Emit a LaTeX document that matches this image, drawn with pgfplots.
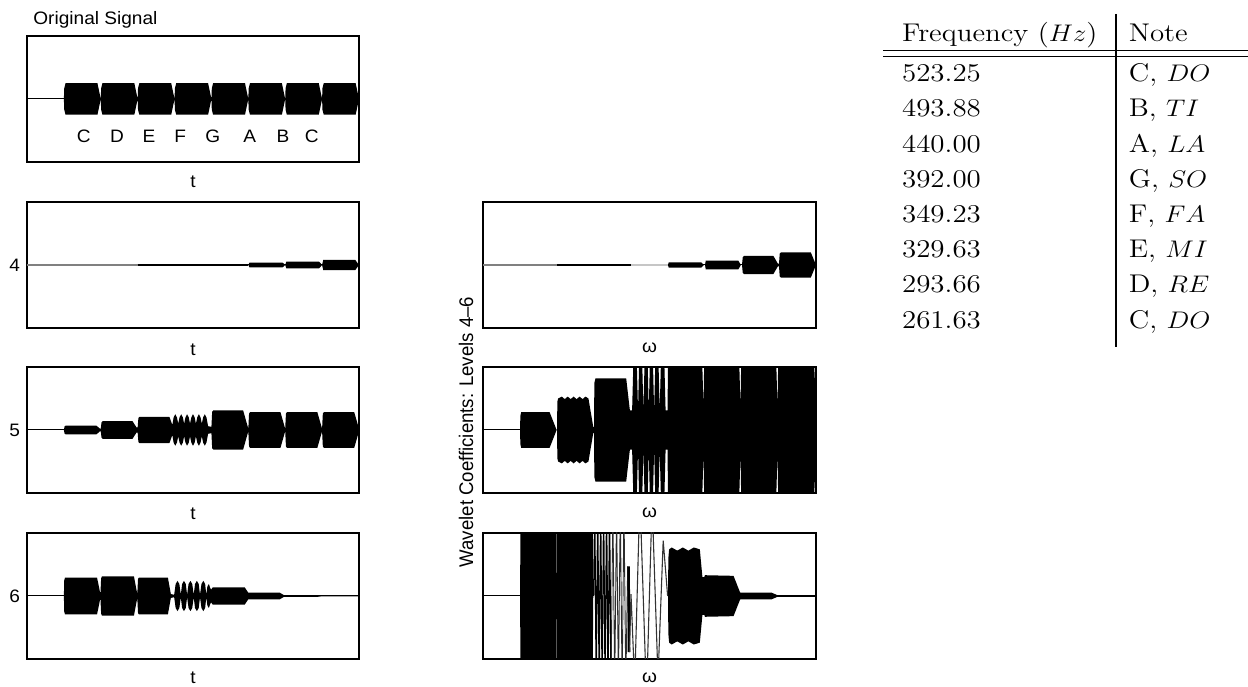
\documentclass[border=0pt]{standalone}
\usepackage{pgfplots}
\pgfplotsset{compat=1.18}
\usepackage{pgfplotstable}
\usepackage{fontspec}
\usepackage{graphicx}
\newfontfamily\helv{Liberation Sans}
\newcommand{\lab}{\helv\fontsize{9}{10.5}\selectfont}
\newcommand{\rlab}{\helv\fontsize{9.3}{11}\selectfont}
\newcommand{\sx}[1]{\scalebox{1.06}[1]{#1}}
\newcommand{\tf}{\fontsize{12.8}{15}\selectfont}
\newcommand{\tx}[1]{\scalebox{1.13}[1]{#1}}

% envelopes (upper u, lower l) of the signals
\pgfplotstableread{
x u l
0 0 0
1 0 0
1.01 0.17 -0.17
1.045 0.25 -0.25
1.91 0.25 -0.25
2 0 0
2.01 0.17 -0.17
2.045 0.25 -0.25
2.91 0.25 -0.25
3 0 0
3.01 0.17 -0.17
3.045 0.25 -0.25
3.91 0.25 -0.25
4 0 0
4.01 0.17 -0.17
4.045 0.25 -0.25
4.91 0.25 -0.25
5 0 0
5.01 0.17 -0.17
5.045 0.25 -0.25
5.91 0.25 -0.25
6 0 0
6.01 0.17 -0.17
6.045 0.25 -0.25
6.91 0.25 -0.25
7 0 0
7.01 0.17 -0.17
7.045 0.25 -0.25
7.91 0.25 -0.25
8 0 0
8.01 0.17 -0.17
8.045 0.25 -0.25
8.91 0.25 -0.25
9 0 0
}\Orig

\pgfplotstableread{
x u l
6 0 0
6.03 0.037 -0.037
6.93 0.037 -0.037
7 0 0
7.03 0.053 -0.053
7.92 0.053 -0.053
8 0 0
8.03 0.08 -0.08
8.9 0.08 -0.08
9 0 0
}\LFour

\pgfplotstableread{
x u l
1 0 0
1.02 0.06 -0.06
1.05 0.069 -0.069
1.88 0.069 -0.069
1.98 0.02 -0.02
2 0.02 -0.02
2.02 0.12 -0.12
2.05 0.14 -0.14
2.86 0.14 -0.14
2.97 0.04 -0.04
3 0.04 -0.04
3.02 0.19 -0.19
3.05 0.21 -0.21
3.86 0.21 -0.21
3.94 0.08 -0.08
3.975 0.20 -0.20
4.02 0.25 -0.25
4.065 0.20 -0.20
4.10 0.10 -0.10
4.135 0.20 -0.20
4.18 0.25 -0.25
4.225 0.20 -0.20
4.26 0.10 -0.10
4.295 0.20 -0.20
4.34 0.25 -0.25
4.385 0.20 -0.20
4.42 0.10 -0.10
4.455 0.20 -0.20
4.50 0.25 -0.25
4.545 0.20 -0.20
4.58 0.10 -0.10
4.615 0.20 -0.20
4.66 0.25 -0.25
4.705 0.20 -0.20
4.74 0.10 -0.10
4.775 0.20 -0.20
4.82 0.25 -0.25
4.865 0.20 -0.20
4.91 0.06 -0.06
5.0 0.05 -0.05
5.02 0.29 -0.29
5.05 0.31 -0.31
5.86 0.31 -0.31
6.0 0.02 -0.02
6.02 0.26 -0.26
6.05 0.285 -0.285
6.87 0.285 -0.285
7.0 0.02 -0.02
7.02 0.26 -0.26
7.05 0.285 -0.285
7.87 0.285 -0.285
8.0 0.02 -0.02
8.02 0.26 -0.26
8.05 0.285 -0.285
8.87 0.285 -0.285
9.0 0.02 -0.02
}\LFive

\pgfplotstableread{
x u l
1 0 0
1.01 0.25 -0.25
1.03 0.29 -0.29
1.9 0.29 -0.29
1.99 0.03 -0.03
2.01 0.28 -0.28
2.03 0.31 -0.31
2.9 0.31 -0.31
2.99 0.03 -0.03
3.01 0.27 -0.27
3.03 0.29 -0.29
3.82 0.29 -0.29
3.9 0.03 -0.03
3.99 0.02 -0.02
4.03 0.19 -0.19
4.08 0.24 -0.24
4.13 0.19 -0.19
4.17 0.02 -0.02
4.205 0.19 -0.19
4.255 0.24 -0.24
4.305 0.19 -0.19
4.34 0.02 -0.02
4.38 0.19 -0.19
4.43 0.24 -0.24
4.48 0.19 -0.19
4.52 0.02 -0.02
4.555 0.19 -0.19
4.605 0.24 -0.24
4.655 0.19 -0.19
4.69 0.02 -0.02
4.73 0.19 -0.19
4.78 0.24 -0.24
4.83 0.19 -0.19
4.86 0.02 -0.02
4.89 0.15 -0.15
4.93 0.19 -0.19
4.97 0.12 -0.12
5.0 0.10 -0.10
5.02 0.13 -0.13
5.05 0.138 -0.138
5.9 0.138 -0.138
6.0 0.05 -0.05
6.02 0.053 -0.053
6.85 0.053 -0.053
6.97 0.012 -0.012
7.9 0.012 -0.012
8.0 0.004 -0.004
9.0 0.004 -0.004
}\LSix

\pgfplotstableread{
x u l
5.0 0 0
5.02 0.042 -0.042
5.9 0.042 -0.042
5.97 0 0
6.0 0 0
6.02 0.071 -0.071
6.9 0.071 -0.071
6.97 0 0
7.0 0 0
7.02 0.12 -0.12
7.05 0.143 -0.143
7.85 0.143 -0.143
7.97 0.02 -0.02
8.0 0.02 -0.02
8.02 0.18 -0.18
8.05 0.2 -0.2
8.86 0.2 -0.2
9.0 0 0
}\RFour

\pgfplotstableread{
x u l
1.0 0 0
1.01 0.22 -0.22
1.03 0.283 -0.283
1.8 0.283 -0.283
1.99 0 0
2.0 0 0
2.01 0.45 -0.45
2.03 0.50 -0.50
2.13 0.53 -0.53
2.21 0.49 -0.49
2.29 0.53 -0.53
2.37 0.49 -0.49
2.45 0.53 -0.53
2.53 0.49 -0.49
2.61 0.53 -0.53
2.69 0.49 -0.49
2.77 0.53 -0.53
2.85 0.50 -0.50
2.98 0.05 -0.05
3.0 0.05 -0.05
3.01 0.75 -0.75
3.04 0.82 -0.82
3.87 0.82 -0.82
3.97 0.31 -0.31
4.03 0.31 -0.31
4.11 2.1 -2.1
4.19 0.31 -0.31
4.26 2.1 -2.1
4.335 0.31 -0.31
4.41 2.1 -2.1
4.48 0.31 -0.31
4.55 2.1 -2.1
4.625 0.31 -0.31
4.70 2.1 -2.1
4.775 0.31 -0.31
4.855 2.1 -2.1
4.935 0.31 -0.31
4.99 0.31 -0.31
5.01 2.5 -2.5
5.88 2.0 -2.0
5.96 0.35 -0.35
6.0 2.0 -2.0
6.88 2.0 -2.0
6.96 0.35 -0.35
7.0 2.0 -2.0
7.88 2.0 -2.0
7.96 0.35 -0.35
8.0 2.0 -2.0
8.88 2.0 -2.0
8.99 0.5 -0.5
9.0 0.5 -0.5
}\RFive

\pgfplotstableread{
x u l
1.0 0 0
1.04 3 -3
1.96 3 -3
1.99 0 0
2.02 3 -3
2.94 3 -3
2.98 0 0
}\RSixA

\pgfplotstableread{
x u l
5.0 0.05 -0.05
5.01 0.6 -0.6
5.03 0.74 -0.74
5.1 0.77 -0.77
5.25 0.72 -0.72
5.4 0.77 -0.77
5.55 0.72 -0.72
5.7 0.77 -0.77
5.86 0.74 -0.74
5.93 0.30 -0.30
5.98 0.30 -0.30
6.0 0.33 -0.33
6.77 0.32 -0.32
6.95 0.055 -0.055
7.0 0.053 -0.053
7.8 0.053 -0.053
7.95 0.015 -0.015
9.0 0.015 -0.015
}\RSixB

\begin{document}
\begin{tikzpicture}
\path[use as bounding box] (0,0) rectangle (624pt,343pt);
\pgfplotsset{
 panel/.style={scale only axis, width=166pt, height=63pt, anchor=south west,
   xmin=0, xmax=9, ymin=-1, ymax=1, xtick=\empty, ytick=\empty,
   axis line style={line width=0.65pt}, major tick length=0pt,
   yticklabel style={font=\lab},
   every axis x label/.style={at={(axis description cs:0.5,0)}, anchor=base, font=\lab}},
 lpanel/.style={panel, xlabel={\sx{t}}},
 rpanel/.style={panel, width=166.5pt, xlabel={\sx{ω}}},
 env/.style={fill=black, draw=none},
 base/.style={black, line width=0.5pt},
}

% ---------- Original signal ----------
\begin{axis}[lpanel, at={(13.5pt,262pt)}, xlabel style={yshift=-13pt}]
\addplot[base] coordinates {(0,0) (1.05,0)};
\addplot[env] table[x=x,y=u]{\Orig} \closedcycle;
\addplot[env] table[x=x,y=l]{\Orig} \closedcycle;
\node[font=\lab] at (axis cs:1.54,-0.6) {\sx{C}};
\node[font=\lab] at (axis cs:2.44,-0.6) {\sx{D}};
\node[font=\lab] at (axis cs:3.31,-0.6) {\sx{E}};
\node[font=\lab] at (axis cs:4.15,-0.6) {\sx{F}};
\node[font=\lab] at (axis cs:5.04,-0.6) {\sx{G}};
\node[font=\lab] at (axis cs:6.04,-0.6) {\sx{A}};
\node[font=\lab] at (axis cs:6.94,-0.6) {\sx{B}};
\node[font=\lab] at (axis cs:7.72,-0.6) {\sx{C}};
\end{axis}
\node[anchor=west, font=\lab, inner sep=0pt] at (16.5pt,333pt) {\sx{Original Signal}};

% ---------- Left: levels 4-6 in t ----------
\begin{axis}[lpanel, at={(13.5pt,179pt)}, ytick={0}, yticklabels={\sx{4}}, xlabel style={yshift=-14pt}]
\addplot[gray, line width=0.7pt] coordinates {(0,0) (3,0)};
\addplot[black, line width=1pt] coordinates {(3,0) (6,0)};
\addplot[base] coordinates {(6,0) (9,0)};
\addplot[env] table[x=x,y=u]{\LFour} \closedcycle;
\addplot[env] table[x=x,y=l]{\LFour} \closedcycle;
\end{axis}

\begin{axis}[lpanel, at={(13.5pt,96.5pt)}, ytick={0}, yticklabels={\sx{5}}, xlabel style={yshift=-13.5pt}]
\addplot[base] coordinates {(0,0) (9,0)};
\addplot[env] table[x=x,y=u]{\LFive} \closedcycle;
\addplot[env] table[x=x,y=l]{\LFive} \closedcycle;
\end{axis}

\begin{axis}[lpanel, at={(13.5pt,13.5pt)}, ytick={0}, yticklabels={\sx{6}}, xlabel style={yshift=-12pt}]
\addplot[base] coordinates {(0,0) (9,0)};
\addplot[env] table[x=x,y=u]{\LSix} \closedcycle;
\addplot[env] table[x=x,y=l]{\LSix} \closedcycle;
\end{axis}

% ---------- Right: levels 4-6 in omega ----------
\begin{axis}[rpanel, at={(241.5pt,179pt)}, xlabel style={yshift=-12.5pt}]
\addplot[gray, line width=0.7pt] coordinates {(0,0) (2,0)};
\addplot[black, line width=1pt] coordinates {(2,0) (4,0)};
\addplot[gray!45, line width=0.6pt] coordinates {(4,0) (5,0)};
\addplot[base] coordinates {(5,0) (9,0)};
\addplot[env] table[x=x,y=u]{\RFour} \closedcycle;
\addplot[env] table[x=x,y=l]{\RFour} \closedcycle;
\end{axis}

\begin{axis}[rpanel, at={(241.5pt,96.5pt)}, xlabel style={yshift=-12.5pt}]
\addplot[base] coordinates {(0,0) (1.05,0)};
\addplot[env] table[x=x,y=u]{\RFive} \closedcycle;
\addplot[env] table[x=x,y=l]{\RFive} \closedcycle;
\end{axis}
\node[rotate=90, font=\rlab] at (233pt,127pt) {\scalebox{1}[1.06]{Wavelet Coefficients: Levels 4–6}};

\begin{axis}[rpanel, at={(241.5pt,13.5pt)}, xlabel style={yshift=-12pt}]
\addplot[base] coordinates {(0,0) (1.05,0)};
\addplot[env] table[x=x,y=u]{\RSixA} \closedcycle;
\addplot[env] table[x=x,y=l]{\RSixA} \closedcycle;
\addplot[env] table[x=x,y=u]{\RSixB} \closedcycle;
\addplot[env] table[x=x,y=l]{\RSixB} \closedcycle;
\addplot[black, line width=0.6pt] coordinates {(2.99,0) (3.02,1.4) (3.06,-1.4) (3.10,1.4) (3.14,-1.4) (3.18,1.4) (3.22,-1.4) (3.26,1.4) (3.30,-1.4) (3.34,1.4) (3.38,-1.4) (3.42,1.4) (3.46,-1.4)};
\addplot[gray!35!black, line width=0.45pt] coordinates {(3.46,-1.4) (3.51,1.4) (3.56,-1.4) (3.61,1.4) (3.66,-1.4) (3.71,1.4) (3.76,-1.4) (3.81,1.4) (3.86,-1.4) (3.91,0.47)};
\addplot[black, line width=1.3pt] coordinates {(3.935,0.47) (3.945,-0.89)};
\addplot[gray!40!black, line width=0.55pt] coordinates {(3.96,-0.89) (4.0,0.03) (4.1,-1.4) (4.24,1.6) (4.42,-1.6) (4.57,1.5) (4.73,-1.3) (4.87,0.88) (4.99,0)};
\end{axis}

% ---------- Table of notes ----------
\draw[line width=0.65pt] (441.5pt,317.65pt) -- (624pt,317.65pt);
\draw[line width=0.65pt] (441.5pt,314.65pt) -- (624pt,314.65pt);
\draw[line width=1pt] (558pt,336pt) -- (558pt,169.65pt);
\begin{scope}[every node/.style={anchor=base west, inner sep=0pt, font=\tf}]
\node at (450.85pt,322.15pt) {\tx{Frequency ($Hz$)}};
\node at (564.2pt,322.15pt) {\tx{Note}};
\node at (450.85pt,302.15pt) {\tx{523.25}};
\node at (564.2pt,302.15pt) {\tx{C, $DO$}};
\node at (450.85pt,284.55pt) {\tx{493.88}};
\node at (564.2pt,284.55pt) {\tx{B, $TI$}};
\node at (450.85pt,266.95pt) {\tx{440.00}};
\node at (564.2pt,266.95pt) {\tx{A, $LA$}};
\node at (450.85pt,249.35pt) {\tx{392.00}};
\node at (564.2pt,249.35pt) {\tx{G, $SO$}};
\node at (450.85pt,231.75pt) {\tx{349.23}};
\node at (564.2pt,231.75pt) {\tx{F, $FA$}};
\node at (450.85pt,214.15pt) {\tx{329.63}};
\node at (564.2pt,214.15pt) {\tx{E, $MI$}};
\node at (450.85pt,196.55pt) {\tx{293.66}};
\node at (564.2pt,196.55pt) {\tx{D, $RE$}};
\node at (450.85pt,178.95pt) {\tx{261.63}};
\node at (564.2pt,178.95pt) {\tx{C, $DO$}};
\end{scope}
\end{tikzpicture}
\end{document}
